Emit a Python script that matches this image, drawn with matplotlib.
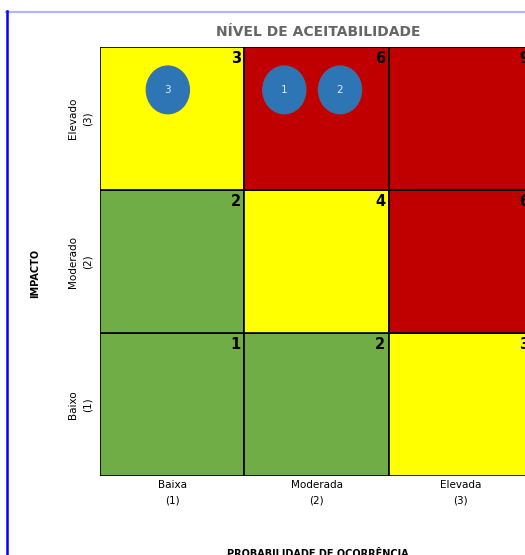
"""
Risk matrix: probability of occurrence vs impact
"""

import matplotlib.pyplot as plt
from matplotlib.patches import Rectangle, Ellipse
from matplotlib.lines import Line2D

prob_labels = ["Baixa\n(1)", "Moderada\n(2)", "Elevada\n(3)"]
impact_labels = ["Baixo\n(1)", "Moderado\n(2)", "Elevado\n(3)"]
levels = [1, 2, 3]

# cell colour by score (probability x impact)
score_colors = {1: "#70AD47", 2: "#70AD47", 3: "#FFFF00", 4: "#FFFF00",
                6: "#C00000", 9: "#C00000"}

# identified risks
risk_ids = [1, 2, 3]
risk_prob = [2, 2, 1]
risk_impact = [3, 3, 3]

W, H = 525, 555
fig = plt.figure(figsize=(W / 100, H / 100), dpi=100)

# grid spans pixels x 100..533, y 47..476 (right column runs past the edge)
ax = fig.add_axes([100 / W, (H - 476) / H, 433 / W, 429 / H])
ax.set_xlim(0, 3)
ax.set_ylim(0, 3)
ax.axis("off")

for p in levels:
    for i in levels:
        s = p * i
        ax.add_patch(Rectangle((p - 1, i - 1), 1, 1, facecolor=score_colors[s],
                               edgecolor="black", linewidth=1.2))
        ax.text(p - 0.025, i - 0.03, str(s), ha="right", va="top",
                fontsize=10.5, fontweight="bold", color="black")

# risks as ellipses, spread side by side when sharing a cell
cells = {}
for rid, p, i in zip(risk_ids, risk_prob, risk_impact):
    cells.setdefault((p, i), []).append(rid)
for (p, i), ids in cells.items():
    n = len(ids)
    for k, rid in enumerate(ids):
        cx = p - 1 + 0.47 + (k - (n - 1) / 2) * 0.386
        cy = i - 1 + 0.70
        ax.add_patch(Ellipse((cx, cy), 0.30, 0.335, facecolor="#2E75B6",
                             edgecolor="#41719C", linewidth=0.8, zorder=3))
        ax.text(cx, cy, str(rid), ha="center", va="center", fontsize=7.5,
                color="#DDEBF7", zorder=4)

for k, lab in enumerate(prob_labels):
    ax.text(k + 0.5, -0.03, lab, ha="center", va="top", fontsize=7.5,
            color="black", linespacing=1.6)
for k, lab in enumerate(impact_labels):
    ax.text(-0.135, k + 0.5, lab, ha="center", va="center", fontsize=7.5,
            color="black", rotation=90, linespacing=1.6)

fig.text(318 / W, 1 - 32 / H, "NÍVEL DE ACEITABILIDADE", ha="center",
         va="center", fontsize=10, fontweight="bold", color="#666666")
fig.text(35 / W, 1 - 273 / H, "IMPACTO", ha="center", va="center",
         fontsize=7, fontweight="bold", rotation=90)
fig.text(318 / W, 1 - 554 / H, "PROBABILIDADE DE OCORRÊNCIA", ha="center",
         va="center", fontsize=7, fontweight="bold")

# outer frame
fig.add_artist(Line2D([6 / W, 1], [1 - 11.5 / H] * 2, color="#B4B4FF",
                      linewidth=1.6, transform=fig.transFigure))
fig.add_artist(Line2D([6.5 / W] * 2, [0, 1 - 11 / H], color="#0000FF",
                      linewidth=1.8, transform=fig.transFigure))

fig.savefig("out.png", dpi=100)
